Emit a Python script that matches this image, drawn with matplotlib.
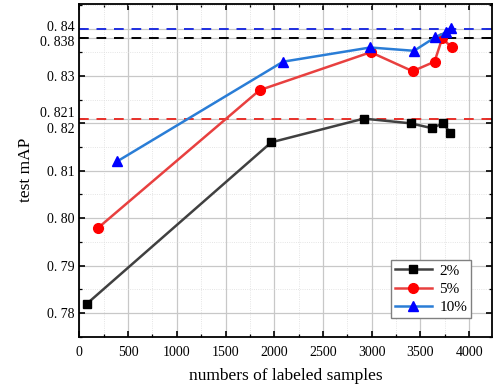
import matplotlib
matplotlib.use("Agg")
import matplotlib.pyplot as plt
from matplotlib.ticker import MultipleLocator
from matplotlib.transforms import ScaledTranslation

plt.rcParams['font.family'] = ['Liberation Serif', 'DejaVu Serif']

x_2 = [80, 1970, 2920, 3400, 3615, 3735, 3805]
y_2 = [0.782, 0.816, 0.821, 0.820, 0.819, 0.820, 0.818]
x_5 = [195, 1850, 2990, 3420, 3645, 3725, 3820]
y_5 = [0.798, 0.827, 0.835, 0.831, 0.833, 0.838, 0.836]
x_10 = [390, 2090, 2985, 3435, 3655, 3765, 3810]
y_10 = [0.812, 0.833, 0.836, 0.8353, 0.8382, 0.8392, 0.8402]
series_labels = ['2%', '5%', '10%']
ref_levels = [0.84, 0.838, 0.821]

ytick_vals = [0.78, 0.79, 0.80, 0.81, 0.82, 0.821, 0.83, 0.838, 0.84]
ytick_labels = ['0. 78', '0. 79', '0. 80', '0. 81', '0. 82', '0. 821', '0. 83', '0. 838', '0. 84']
xtick_vals = [0, 500, 1000, 1500, 2000, 2500, 3000, 3500, 4000]

fig = plt.figure(figsize=(4.99, 3.87), dpi=100)
ax = fig.add_axes([0.159, 0.130, 0.827, 0.860])

ax.set_xlim(0, 4235)
ax.set_ylim(0.775, 0.8452)

ax.set_xticks(xtick_vals)
ax.set_xticklabels([str(v) for v in xtick_vals])
ax.set_yticks(ytick_vals)
ax.set_yticklabels(ytick_labels)
ax.xaxis.set_minor_locator(MultipleLocator(250))
ax.yaxis.set_minor_locator(MultipleLocator(0.005))

ax.grid(True, which='major', color='#c8c8c8', linewidth=0.9)
ax.grid(True, which='minor', color='#dcdcdc', linewidth=0.6, linestyle=':')
ax.set_axisbelow(True)

ax.tick_params(which='both', direction='in', top=True, right=True, labelsize=10)
ax.tick_params(axis='x', which='major', pad=7)
ax.tick_params(which='major', length=4, width=1.2)
ax.tick_params(which='minor', length=2.5, width=0.9)
for s in ax.spines.values():
    s.set_linewidth(1.3)

# nudge crowded y tick labels apart (points)
shifts = {'0. 84': 2, '0. 838': -2, '0. 821': 5, '0. 82': -3}
for lab in ax.get_yticklabels():
    d = shifts.get(lab.get_text())
    if d:
        lab.set_transform(lab.get_transform() + ScaledTranslation(0, d / 72, fig.dpi_scale_trans))

ax.axhline(ref_levels[0], color='#1f2ee0', linestyle=(0, (5, 4)), linewidth=1.4)
ax.axhline(ref_levels[1], color='black', linestyle=(0, (5, 4)), linewidth=1.4)
ax.axhline(ref_levels[2], color='#e8302a', linestyle=(0, (5, 4)), linewidth=1.4)

ax.plot(x_2, y_2, color='#404040', linewidth=1.8, marker='s', markersize=6,
        markerfacecolor='black', markeredgecolor='black', label=series_labels[0])
ax.plot(x_5, y_5, color='#e8403f', linewidth=1.8, marker='o', markersize=7,
        markerfacecolor='#ff0000', markeredgecolor='#ff0000', label=series_labels[1])
ax.plot(x_10, y_10, color='#2a7dd6', linewidth=1.8, marker='^', markersize=7,
        markerfacecolor='#0000ff', markeredgecolor='#0000ff', label=series_labels[2])

ax.set_xlabel('numbers of labeled samples', fontsize=12.5, labelpad=6)
ax.set_ylabel('test mAP', fontsize=12.5, labelpad=4)

leg = ax.legend(loc='lower right', bbox_to_anchor=(0.949, 0.056), fontsize=11,
                fancybox=False, framealpha=1, edgecolor='#808080', borderaxespad=0,
                handlelength=2.4, borderpad=0.25, labelspacing=0.3, handletextpad=0.5)
leg.get_frame().set_linewidth(1.0)

fig.savefig('out.png', dpi=100)
